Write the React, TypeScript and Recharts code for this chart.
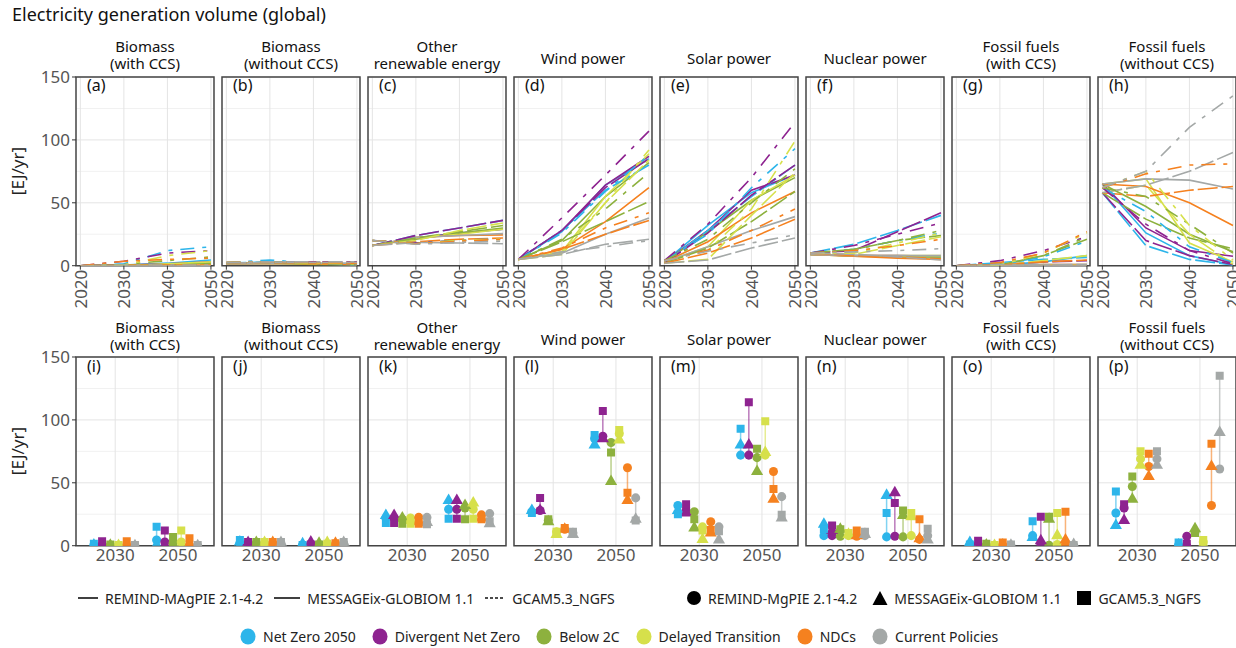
import React from "react";
import { ComposedChart, Line, Scatter, XAxis, YAxis, ZAxis, CartesianGrid, ReferenceArea } from "recharts";

// years shown in the top row, values in every array follow this order
const YEARS = [2020, 2030, 2040, 2050];
const SNAP_YEARS = [2030, 2050];

const SCENARIOS = ["Net Zero 2050", "Divergent Net Zero", "Below 2C", "Delayed Transition", "NDCs", "Current Policies"];
const SCENARIO_COLORS = ["#2db5ea", "#8e2390", "#8db13e", "#d6e04b", "#f5811f", "#a4a8a7"];

const MODELS = ["REMIND", "MESSAGE", "GCAM"];
const MODEL_LINE_NAMES = ["REMIND-MAgPIE 2.1-4.2", "MESSAGEix-GLOBIOM 1.1", "GCAM5.3_NGFS"];
const MODEL_MARK_NAMES = ["REMIND-MgPIE 2.1-4.2", "MESSAGEix-GLOBIOM 1.1", "GCAM5.3_NGFS"];
const MODEL_DASH = ["", "20 4", "14 8 4 8"];
const MODEL_SHAPE = ["circle", "triangle", "square"] as const;

type ModelData = Record<string, number[][]>;

// EJ/yr, rows = scenarios (same order as SCENARIOS), cols = YEARS
const biomassCcs: ModelData = {
  REMIND: [[0, 0.5, 2, 4.5], [0, 0.5, 1.5, 3], [0, 0.3, 1, 2], [0, 0.2, 1.5, 3], [0, 0.2, 0.3, 0.5], [0, 0, 0, 0]],
  MESSAGE: [[0, 0.5, 0.5, 0.5], [0, 0.5, 0.5, 0.5], [0, 0.3, 0.5, 0.5], [0, 0.2, 0.5, 0.5], [0, 0.2, 0.5, 0.5], [0, 0, 0, 0]],
  GCAM: [[0, 1.5, 12, 15], [0, 3.5, 10, 12], [0, 1, 4, 7], [0, 0.5, 8, 12], [0, 3.5, 5, 6], [0, 0.5, 0.5, 0.5]],
};
const biomassNoCcs: ModelData = {
  REMIND: [[1.5, 2, 1.5, 0.5], [1.5, 2, 1.5, 0.5], [1.5, 2, 1, 0.5], [1.5, 2, 1.5, 1], [1.5, 2, 1.5, 1], [1.5, 2, 2, 2]],
  MESSAGE: [[2, 3, 2.5, 1.5], [2, 2.5, 3, 3], [2, 2.5, 2, 2], [2, 2.5, 2.5, 2.5], [2, 2.5, 2, 2], [2, 2.5, 2.5, 2.5]],
  GCAM: [[2.5, 4.5, 2, 0.5], [2.5, 3, 2, 1], [2.5, 3, 2, 1], [2.5, 3, 2, 1.5], [2.5, 3, 2.5, 2], [2.5, 3, 3, 3]],
};
const otherRenewables: ModelData = {
  REMIND: [[16, 22, 26, 29], [16, 22, 26, 29], [16, 21, 26, 30], [16, 22, 25, 29], [16, 22.5, 24, 24.5], [16, 22.5, 24, 25.5]],
  MESSAGE: [[16, 24, 30, 36], [16, 24, 30, 36], [16, 22, 27, 32], [16, 20, 28, 34], [16, 19, 21, 22], [16, 18.5, 18, 17.5]],
  GCAM: [[20, 18, 20, 21.5], [20, 18, 20, 21.5], [20, 17.5, 20, 21], [20, 17.5, 20, 21.5], [20, 17.5, 19.5, 21], [20, 17, 18.5, 19.5]],
};
const windPower: ModelData = {
  REMIND: [[5, 27, 64, 85], [5, 28, 64, 87], [5, 20, 55, 82], [5, 11, 55, 89], [5, 13, 35, 62], [5, 10, 25, 38]],
  MESSAGE: [[5, 28, 60, 80], [5, 28, 62, 85], [5, 19, 35, 51], [5, 9, 50, 84], [5, 13, 25, 36], [5, 9, 17, 21]],
  GCAM: [[5, 26, 59, 88], [5, 38, 72, 107], [5, 21, 45, 74], [5, 11, 50, 92], [5, 14, 30, 42], [5, 11, 15, 20]],
};
const solarPower: ModelData = {
  REMIND: [[3, 32, 58, 72], [3, 28, 60, 72], [3, 27, 52, 70], [3, 15, 52, 72], [3, 19, 42, 59], [3, 15, 28, 39]],
  MESSAGE: [[2, 28, 55, 80], [2, 26, 56, 80], [2, 14, 35, 59], [2, 5, 40, 74], [2, 10, 22, 37], [2, 4.5, 14, 22]],
  GCAM: [[4, 25, 62, 93], [4, 33, 70, 114], [4, 21, 50, 77], [4, 12, 45, 99], [4, 12.5, 28, 45], [4, 11.5, 18, 24.5]],
};
const nuclearPower: ModelData = {
  REMIND: [[9, 8, 7.5, 7], [9, 8, 8, 7.5], [9, 7.5, 7, 7], [9, 8, 8, 8], [9, 7.5, 6, 5], [9, 8, 8, 8]],
  MESSAGE: [[10, 17, 28, 40], [10, 12, 27, 42], [10, 13, 20, 24], [10, 9, 16, 23], [10, 8, 7, 5.5], [10, 9, 7, 4.5]],
  GCAM: [[10, 13, 20, 26], [10, 16, 25, 34], [10, 13, 20, 28], [10, 10, 18, 26], [10, 12, 16, 21], [10, 11, 12, 13.5]],
};
const fossilCcs: ModelData = {
  REMIND: [[0, 0.5, 3, 8], [0, 0.5, 1, 1], [0, 0.3, 0.3, 0.3], [0, 0.2, 1, 1], [0, 0.3, 0.3, 0.3], [0, 0.2, 0.2, 0.2]],
  MESSAGE: [[0, 2.5, 5, 6.5], [0, 1, 3, 4], [0, 0.5, 8, 21], [0, 0.2, 4, 8], [0, 0.5, 3, 4.5], [0, 0.3, 0.5, 1]],
  GCAM: [[0, 1, 7, 19.5], [0, 4, 12, 23], [0, 1.5, 8, 23], [0, 0.5, 10, 26], [0, 2.5, 10, 27], [0, 1, 0.8, 0.5]],
};
const fossilNoCcs: ModelData = {
  REMIND: [[65, 26, 8, 0.5], [65, 30, 12, 7.5], [65, 47, 25, 11], [65, 69, 18, 3], [65, 63, 50, 32], [65, 69, 68, 61]],
  MESSAGE: [[58, 16, 5, 0.5], [58, 20, 8, 1], [58, 37, 22, 13.5], [58, 64, 25, 1], [58, 55, 60, 63], [58, 64, 75, 90]],
  GCAM: [[62, 43, 15, 2.5], [62, 33, 12, 1.5], [62, 55, 33, 10], [62, 75, 32, 4.5], [62, 73, 80, 81], [62, 75, 110, 135]],
};

const PANELS = [
  { title: ["Biomass", "(with CCS)"], tags: ["(a)", "(i)"], data: biomassCcs },
  { title: ["Biomass", "(without CCS)"], tags: ["(b)", "(j)"], data: biomassNoCcs },
  { title: ["Other", "renewable energy"], tags: ["(c)", "(k)"], data: otherRenewables },
  { title: ["Wind power"], tags: ["(d)", "(l)"], data: windPower },
  { title: ["Solar power"], tags: ["(e)", "(m)"], data: solarPower },
  { title: ["Nuclear power"], tags: ["(f)", "(n)"], data: nuclearPower },
  { title: ["Fossil fuels", "(with CCS)"], tags: ["(g)", "(o)"], data: fossilCcs },
  { title: ["Fossil fuels", "(without CCS)"], tags: ["(h)", "(p)"], data: fossilNoCcs },
];

const FONT = "'Noto Sans', sans-serif";
const LEFT0 = 76;
const STEP = 146;
const PW = 138;
const PH = 188.7;
const ROW_TOP = [77, 356.7];
const Y_W = 50;
const M = { top: 12, right: 12, left: 10, bottom: 0 };
const TOP_XDOM: [number, number] = [2019, 2050.7];
const BOT_XDOM: [number, number] = [2017.5, 2061.5];
const DODGE = 2.62;

const RotTick = (props: any) => {
  const { x, y, payload } = props;
  return (
    <text x={x} y={y} transform={`rotate(-90 ${x} ${y})`} textAnchor="end" dominantBaseline="central"
      fontSize={17} fill="#555" fontFamily={FONT}>{payload.value}</text>
  );
};

const NoMark = () => <g />;

function Grid({ vertical }: { vertical: number[] }) {
  return (
    <>
      <CartesianGrid stroke="#f1f1f1" horizontalValues={[25, 75, 125]} vertical={false} />
      <CartesianGrid stroke="#e4e4e4" horizontalValues={[0, 50, 100, 150]} verticalValues={vertical} />
    </>
  );
}

function TopPanel({ idx }: { idx: number }) {
  const p = PANELS[idx];
  const rows = YEARS.map((yr, yi) => {
    const r: Record<string, number> = { year: yr };
    MODELS.forEach((m) => p.data[m].forEach((s, si) => { r[`${m}_${si}`] = s[yi]; }));
    return r;
  });
  const yW = idx === 0 ? Y_W : 0;
  const xH = 45;
  return (
    <div style={{ position: "absolute", left: LEFT0 + idx * STEP - yW - M.left, top: ROW_TOP[0] - M.top }}>
      <ComposedChart width={M.left + yW + PW + M.right} height={M.top + PH + xH} data={rows} margin={M}>
        <Grid vertical={YEARS} />
        <XAxis dataKey="year" type="number" domain={TOP_XDOM} ticks={YEARS} interval={0} tick={<RotTick />}
          tickSize={4} tickMargin={0} axisLine={false} tickLine={{ stroke: "#333" }} height={xH} />
        <YAxis type="number" domain={[0, 150]} ticks={[0, 50, 100, 150]} hide={idx !== 0} width={yW}
          tick={{ fontSize: 17, fill: "#555", fontFamily: FONT }} tickSize={4} tickMargin={2}
          axisLine={false} tickLine={{ stroke: "#333" }} allowDataOverflow />
        {MODELS.map((m, mi) =>
          SCENARIOS.map((s, si) => (
            <Line key={`${m}_${si}`} dataKey={`${m}_${si}`} type="linear" stroke={SCENARIO_COLORS[si]}
              strokeWidth={1.6} strokeDasharray={MODEL_DASH[mi]} dot={false} isAnimationActive={false} />
          ))
        )}
        <ReferenceArea x1={TOP_XDOM[0]} x2={TOP_XDOM[1]} y1={0} y2={150} fill="none" stroke="#444" strokeWidth={1.5} />
      </ComposedChart>
    </div>
  );
}

function BottomPanel({ idx }: { idx: number }) {
  const p = PANELS[idx];
  const yW = idx === 0 ? Y_W : 0;
  const xH = 26;
  const pos = (yr: number, si: number) => yr + (si - 2.5) * DODGE - 0.25;
  const col = (yr: number) => YEARS.indexOf(yr);
  return (
    <div style={{ position: "absolute", left: LEFT0 + idx * STEP - yW - M.left, top: ROW_TOP[1] - M.top }}>
      <ComposedChart width={M.left + yW + PW + M.right} height={M.top + PH + xH} margin={M}>
        <Grid vertical={SNAP_YEARS} />
        <XAxis dataKey="x" type="number" domain={BOT_XDOM} ticks={SNAP_YEARS} interval={0}
          tick={{ fontSize: 17, fill: "#555", fontFamily: FONT }} tickSize={0} tickMargin={3}
          axisLine={false} tickLine={false} height={xH} />
        <YAxis dataKey="y" type="number" domain={[0, 150]} ticks={[0, 50, 100, 150]} hide={idx !== 0} width={yW}
          tick={{ fontSize: 17, fill: "#555", fontFamily: FONT }} tickSize={4} tickMargin={2}
          axisLine={false} tickLine={{ stroke: "#333" }} allowDataOverflow />
        <ZAxis range={[72, 72]} />
        {SCENARIOS.map((s, si) =>
          SNAP_YEARS.map((yr) => {
            const vals = MODELS.map((m) => p.data[m][si][col(yr)]);
            const seg = [{ x: pos(yr, si), y: Math.min(...vals) }, { x: pos(yr, si), y: Math.max(...vals) }];
            return (
              <Scatter key={`seg_${si}_${yr}`} data={seg} shape={<NoMark />} isAnimationActive={false}
                line={{ stroke: SCENARIO_COLORS[si], strokeWidth: 1.5, strokeOpacity: 0.6 }} />
            );
          })
        )}
        {MODELS.map((m, mi) =>
          SCENARIOS.map((s, si) => (
            <Scatter key={`${m}_${si}`} shape={MODEL_SHAPE[mi]} fill={SCENARIO_COLORS[si]} isAnimationActive={false}
              data={SNAP_YEARS.map((yr) => ({ x: pos(yr, si), y: p.data[m][si][col(yr)] }))} />
          ))
        )}
        <ReferenceArea x1={BOT_XDOM[0]} x2={BOT_XDOM[1]} y1={0} y2={150} fill="none" stroke="#444" strokeWidth={1.5} />
      </ComposedChart>
    </div>
  );
}

function Titles({ row }: { row: number }) {
  const off = row === 0 ? 0 : 281;
  return (
    <>
      {PANELS.map((p, i) => (
        <React.Fragment key={i}>
          <div style={{
            position: "absolute", left: LEFT0 + i * STEP - 10, width: PW + 20, textAlign: "center",
            top: (p.title.length === 2 ? 37.5 : 49.5) + off, fontSize: 15, lineHeight: "17px", color: "#111",
          }}>
            {p.title.map((t, k) => <div key={k} style={{ whiteSpace: "nowrap" }}>{t}</div>)}
          </div>
          <div style={{ position: "absolute", left: LEFT0 + i * STEP + 11, top: 76 + off, fontSize: 16, lineHeight: "19px", color: "#111" }}>
            {p.tags[row]}
          </div>
        </React.Fragment>
      ))}
      <div style={{
        position: "absolute", left: 17, top: ROW_TOP[row] + PH / 2, fontSize: 17, color: "#222",
        transform: "translate(-50%, -50%) rotate(-90deg)", whiteSpace: "nowrap",
      }}>[EJ/yr]</div>
    </>
  );
}

function Legends() {
  const item = { display: "flex", alignItems: "center", whiteSpace: "nowrap" as const };
  return (
    <>
      <div style={{ position: "absolute", left: 78, top: 589, height: 18, fontSize: 14, color: "#222", display: "flex", gap: 11 }}>
        {MODEL_LINE_NAMES.map((n, mi) => (
          <div key={n} style={item}>
            <svg width={mi === 1 ? 26 : 20} height={10} style={{ marginRight: 7 }}>
              <line x1={0} x2={mi === 1 ? 26 : 20} y1={5} y2={5} stroke="#111" strokeWidth={1.6}
                strokeDasharray={mi === 2 ? "3 2" : undefined} />
            </svg>
            {n}
          </div>
        ))}
      </div>
      <div style={{ position: "absolute", left: 686, top: 589, height: 18, fontSize: 14, color: "#222", display: "flex", gap: 15 }}>
        {MODEL_MARK_NAMES.map((n, mi) => (
          <div key={n} style={item}>
            <svg width={16} height={16} style={{ marginRight: 6 }}>
              {mi === 0 && <circle cx={8} cy={8} r={7} fill="#000" />}
              {mi === 1 && <polygon points="8,1 15.5,15 0.5,15" fill="#000" />}
              {mi === 2 && <rect x={1} y={1} width={14} height={14} fill="#000" />}
            </svg>
            {n}
          </div>
        ))}
      </div>
      <div style={{ position: "absolute", left: 240, top: 627, height: 18, fontSize: 14, color: "#222", display: "flex", gap: 16 }}>
        {SCENARIOS.map((s, si) => (
          <div key={s} style={item}>
            <svg width={16} height={17} style={{ marginRight: 7 }}>
              <ellipse cx={8} cy={8.5} rx={7.5} ry={8} fill={SCENARIO_COLORS[si]} />
            </svg>
            {s}
          </div>
        ))}
      </div>
    </>
  );
}

export default function App() {
  return (
    <div style={{ position: "absolute", left: 0, top: 0, width: 1236, height: 648, background: "#fff", fontFamily: FONT, overflow: "hidden" }}>
      <div style={{ position: "absolute", left: 12, top: 2, fontSize: 18, color: "#111" }}>Electricity generation volume (global)</div>
      <Titles row={0} />
      <Titles row={1} />
      {PANELS.map((p, i) => <TopPanel key={`t${i}`} idx={i} />)}
      {PANELS.map((p, i) => <BottomPanel key={`b${i}`} idx={i} />)}
      <Legends />
    </div>
  );
}
